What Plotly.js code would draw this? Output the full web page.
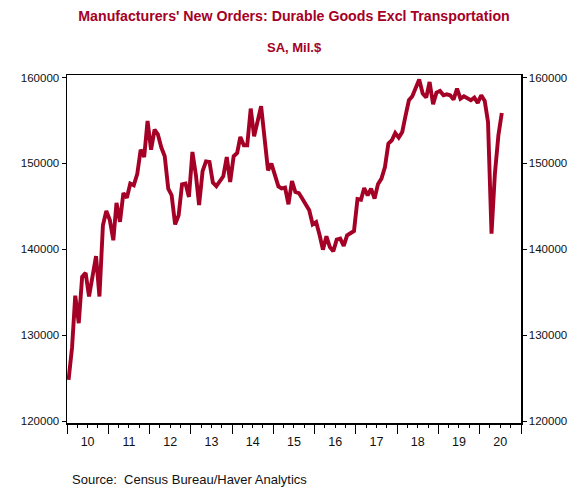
<!DOCTYPE html>
<html>
<head>
<meta charset="utf-8">
<script src="https://cdn.plot.ly/plotly-3.0.1.min.js"></script>
<style>html,body{margin:0;padding:0;background:#fff;}#chart{width:570px;height:488px;}</style>
</head>
<body>
<div id="chart"></div>
<script>
// Monthly data, Jan 2010 .. Jul 2020 (SA, Mil.$)
const startYear = 2010;
const startMonth = 1;
const newOrders = [
  124800, 128600, 134600, 131400, 136800, 137250, 134500, 137000, 139200, 134500, 142800, 144460,
  143400, 141050, 145400, 143200, 146550, 146000, 147650, 147450, 148800, 151600, 150750, 154950,
  151600, 153940, 153400, 151850, 150830, 147070, 146300, 142900, 143950, 147570, 147650, 146100,
  151330, 148620, 145150, 149100, 150230, 150170, 147780, 147350, 147900, 148500, 150750, 147840,
  150830, 151220, 153080, 152110, 152110, 156390, 153160, 155030, 156660, 153000, 149200, 149980,
  148800, 147330, 147100, 147180, 145240, 147950, 146670, 146550, 145900, 145120, 144540, 142910,
  143180, 141630, 139960, 141510, 140270, 139770, 141130, 141240, 140400, 141630, 141900, 142130,
  145850, 145780, 147140, 146290, 147070, 145900, 147570, 148230, 149590, 152310, 152700, 153550,
  153010, 153670, 155490, 157360, 157820, 158900, 159770, 158140, 157670, 159490, 156890, 158250,
  158440, 157940, 158050, 157940, 157440, 158720, 157550, 157820, 157550, 157360, 157670, 157050,
  157940, 157270, 154830, 141830, 148820, 153280, 155880
];
const yTickVals = [120000, 130000, 140000, 150000, 160000];
const titleText = "Manufacturers' New Orders: Durable Goods Excl Transportation";
const subtitleText = "SA, Mil.$";
const sourceText = "Source:  Census Bureau/Haver Analytics";

// month dates (mid-month)
const dates = newOrders.map((_, i) => {
  const m0 = startMonth - 1 + i;
  const y = startYear + Math.floor(m0 / 12);
  const m = (m0 % 12) + 1;
  return y + '-' + String(m).padStart(2, '0') + '-15';
});

const RED = '#a50026';
const FONT = '"Liberation Sans", Arial, sans-serif';
const yRange = [119770, 160300];

const traces = [
  {x: dates, y: newOrders, type: 'scatter', mode: 'lines',
   line: {color: RED, width: 3.9}, hoverinfo: 'skip', showlegend: false},
  {x: dates, y: newOrders, type: 'scatter', mode: 'lines', yaxis: 'y2',
   line: {color: 'rgba(0,0,0,0)', width: 0}, hoverinfo: 'skip', showlegend: false}
];

const yCommon = {
  range: yRange, tickvals: yTickVals, tickformat: 'd',
  ticks: 'outside', ticklen: 4, tickwidth: 1, tickcolor: '#000',
  showline: true, linecolor: '#000', linewidth: 1.5,
  showgrid: false, zeroline: false,
  tickfont: {family: FONT, size: 11.5, color: '#111'}
};

const layout = {
  width: 570, height: 488,
  margin: {l: 67, r: 49, t: 75, b: 65},
  paper_bgcolor: '#fff', plot_bgcolor: '#fff',
  font: {family: FONT, color: '#111'},
  title: {text: '<b>' + titleText + '</b>', x: 0.5, xref: 'paper', xanchor: 'center',
          y: 1 - 16 / 488, yref: 'container', yanchor: 'middle',
          font: {family: FONT, size: 14.2, color: RED}},
  xaxis: {
    type: 'date', range: ['2010-01-01', '2021-01-01'],
    dtick: 'M12', tick0: '2010-01-01', tickformat: '%y', ticklabelmode: 'period',
    ticks: 'outside', ticklen: 9, tickwidth: 1, tickcolor: '#000',
    ticklabelstandoff: -3,
    minor: {dtick: 'M3', ticks: 'outside', ticklen: 3, tickwidth: 1, tickcolor: '#000'},
    showline: true, mirror: true, linecolor: '#000', linewidth: 1.5,
    showgrid: false, zeroline: false,
    tickfont: {family: FONT, size: 12.5, color: '#111'}
  },
  yaxis: Object.assign({side: 'left'}, yCommon),
  yaxis2: Object.assign({side: 'right', overlaying: 'y'}, yCommon),
  annotations: [
    {text: '<b>' + subtitleText + '</b>', xref: 'paper', yref: 'paper', x: 0.5, y: (423 - 47) / 348,
     xanchor: 'center', yanchor: 'middle', showarrow: false,
     font: {family: FONT, size: 13, color: RED}},
    {text: sourceText, xref: 'paper', yref: 'paper', x: (70 - 67) / 454, y: (423 - 479) / 348,
     xanchor: 'left', yanchor: 'middle', showarrow: false,
     font: {family: FONT, size: 13, color: '#111'}}
  ]
};

Plotly.newPlot('chart', traces, layout, {staticPlot: true, displayModeBar: false});
</script>
</body>
</html>
